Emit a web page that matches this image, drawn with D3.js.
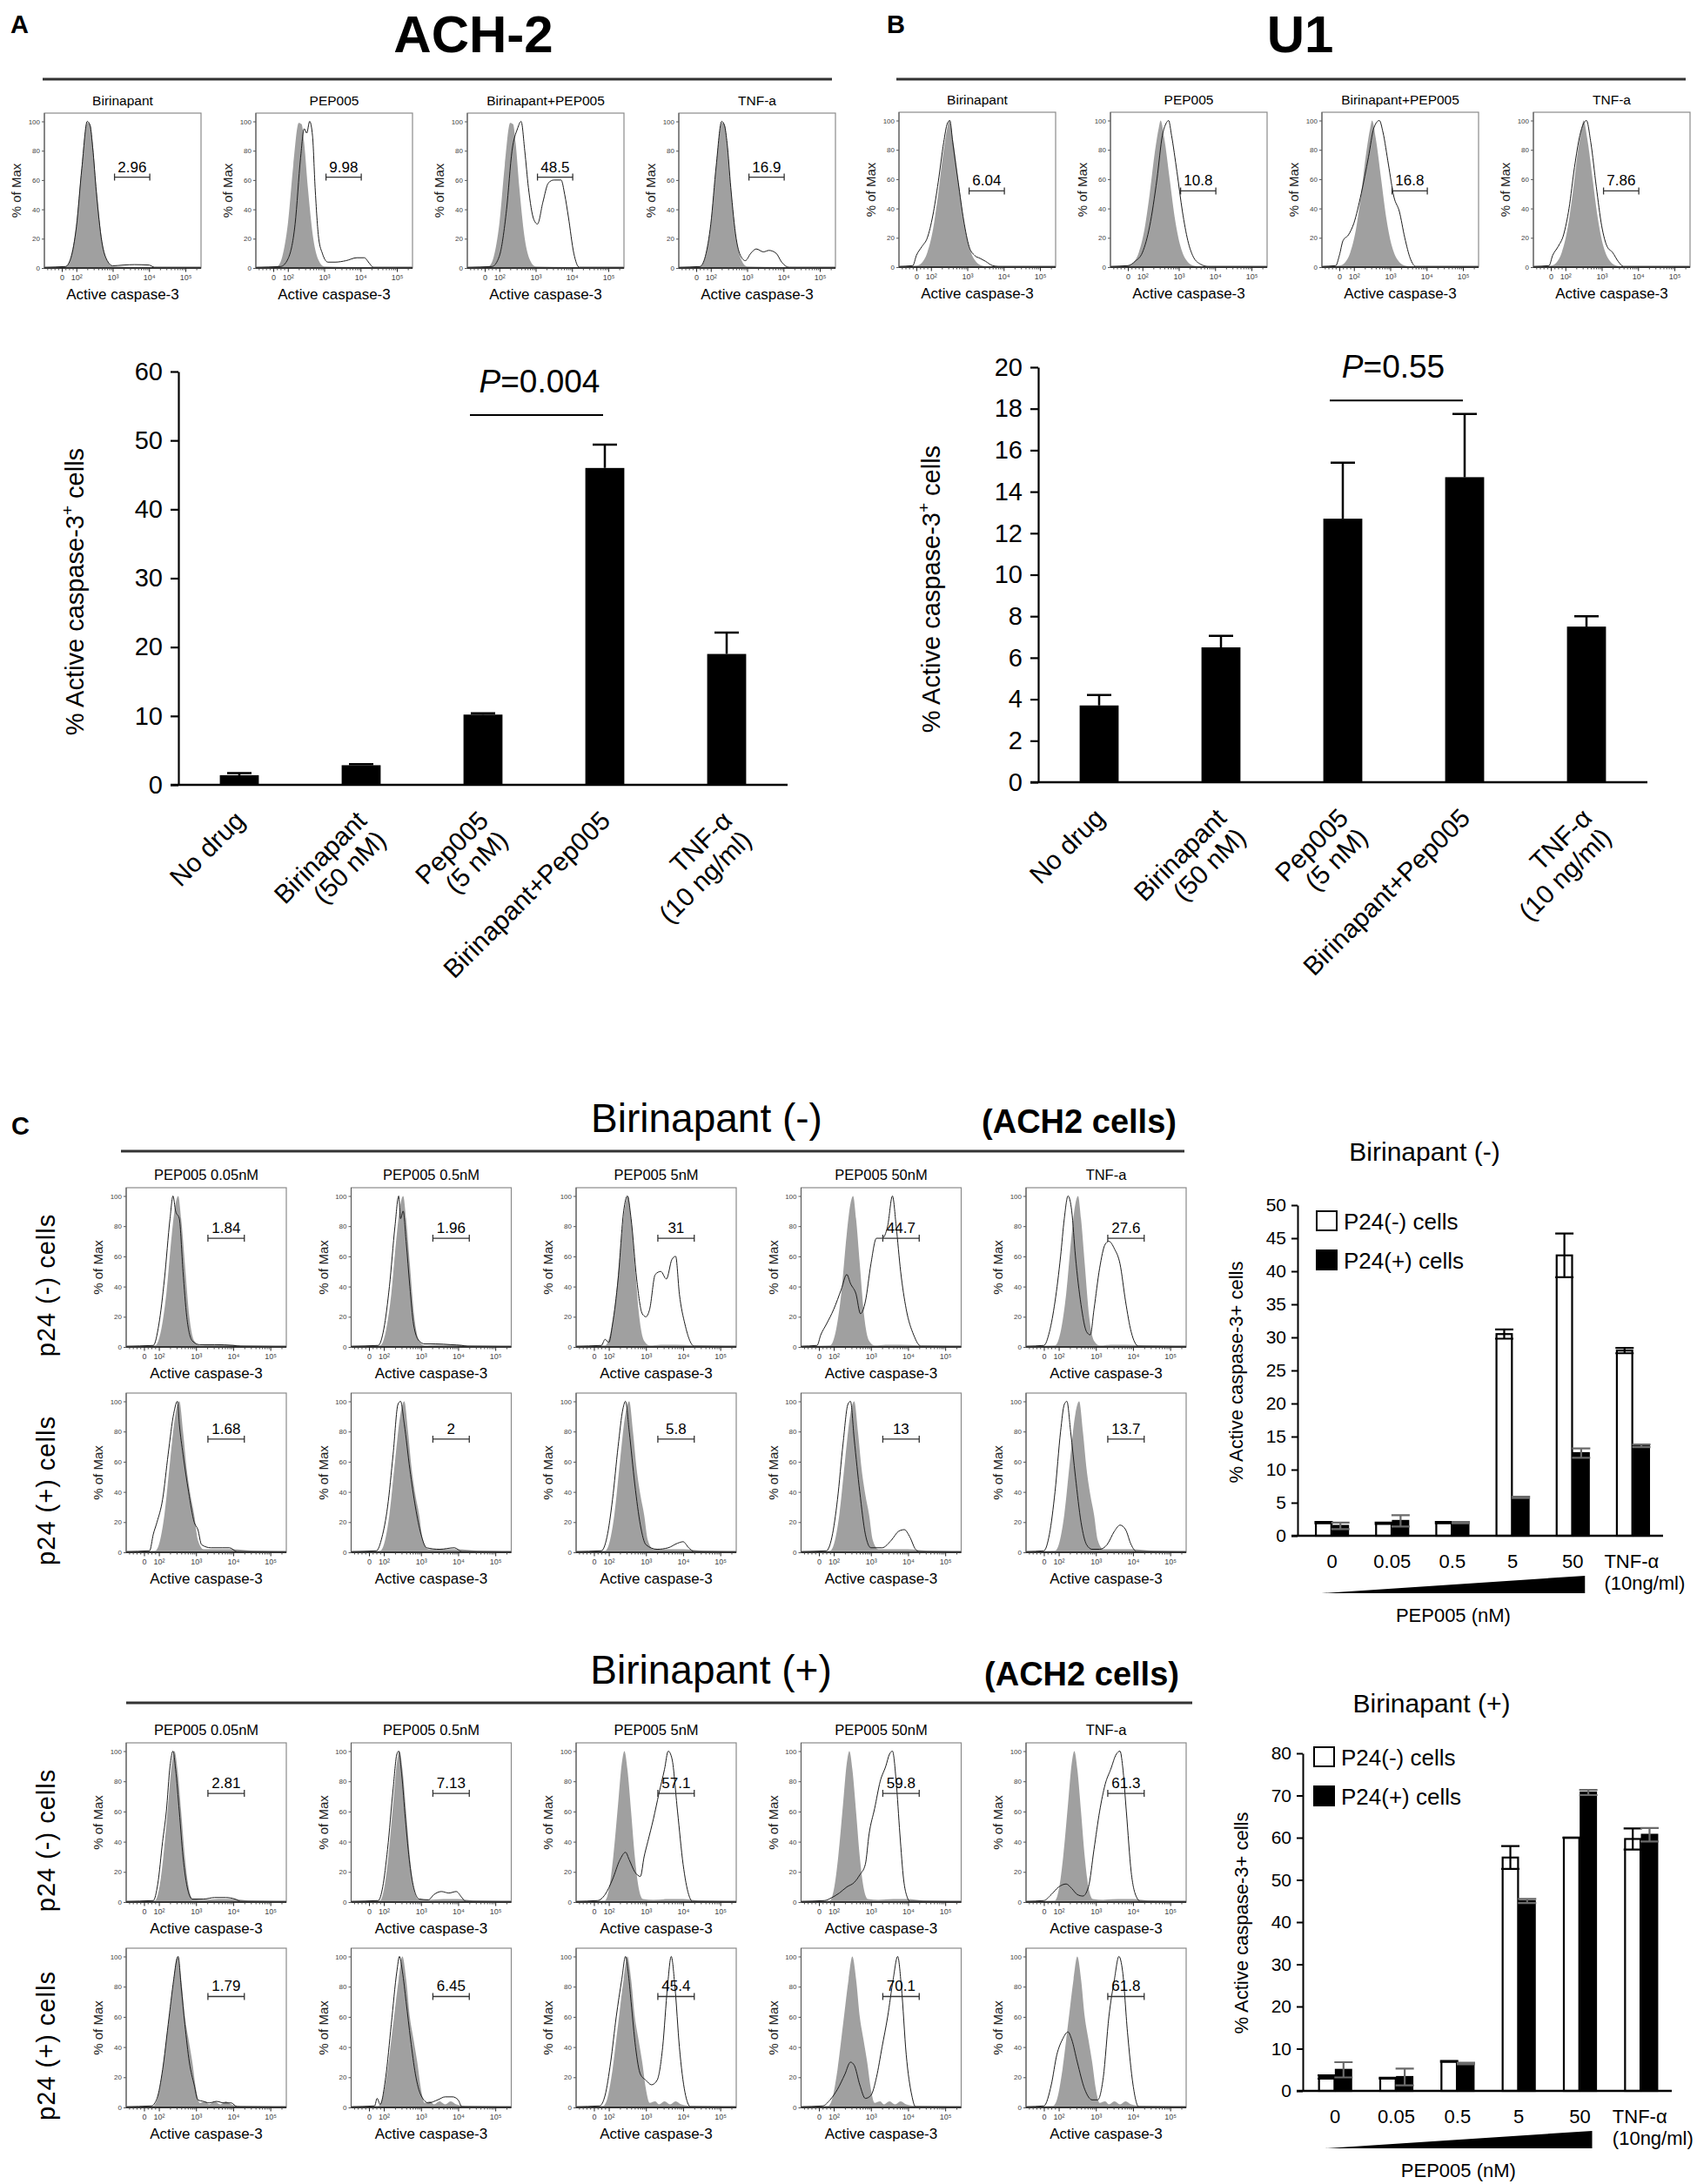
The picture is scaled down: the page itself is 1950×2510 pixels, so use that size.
<!DOCTYPE html>
<html>
<head>
<meta charset="utf-8">
<script src="https://cdn.jsdelivr.net/npm/d3@7"></script>
<style>
  body { margin: 0; background: #fff; }
  text { font-family: "Liberation Sans", Arial, Helvetica, sans-serif; }
</style>
</head>
<body>
<svg id="fig" width="1950" height="2510"></svg>
<script>
const font = '"Liberation Sans", Arial, Helvetica, sans-serif';

// ---------- bar chart data (panels A and B) ----------
const drugLabels = [["No drug"], ["Birinapant", "(50 nM)"], ["Pep005", "(5 nM)"], ["Birinapant+Pep005"], ["TNF-α", "(10 ng/ml)"]];
const achMeans = [1.4, 2.85, 10.2, 46.0, 19.0];
const achErrs = [0.3, 0.15, 0.2, 3.4, 3.1];
const u1Means = [3.7, 6.5, 12.7, 14.7, 7.5];
const u1Errs = [0.5, 0.55, 2.7, 3.05, 0.5];

// ---------- grouped bar data (panel C, right) ----------
const doseLabels = [["0"], ["0.05"], ["0.5"], ["5"], ["50"], ["TNF-α", "(10ng/ml)"]];
const birMinusP24Neg = [2.0, 1.9, 2.0, 30.5, 42.4, 28.0];
const birMinusP24NegErr = [0.1, 0.1, 0.1, 0.7, 3.3, 0.4];
const birMinusP24Pos = [1.5, 2.25, 2.0, 5.8, 12.5, 13.6];
const birMinusP24PosErr = [0.5, 0.85, 0.1, 0.1, 0.7, 0.2];
const birPlusP24Neg = [3.3, 3.0, 7.0, 55.3, 60.0, 59.7];
const birPlusP24NegErr = [0.4, 0.1, 0.1, 2.7, 0.05, 2.5];
const birPlusP24Pos = [5.0, 3.3, 6.5, 45.0, 70.7, 60.7];
const birPlusP24PosErr = [1.8, 2.0, 0.2, 0.5, 0.6, 1.6];

// ---------- histogram data: [decade position, % of max] ----------
const abTitles = ["Birinapant", "PEP005", "Birinapant+PEP005", "TNF-a"];
const cTitles = ["PEP005 0.05nM", "PEP005 0.5nM", "PEP005 5nM", "PEP005 50nM", "TNF-a"];

const achGates = ["2.96", "9.98", "48.5", "16.9"];
const achGray = [[1.12,0.5],[1.7,1],[1.85,8],[2.0,30],[2.15,70],[2.3,99],[2.38,98],[2.45,85],[2.55,55],[2.7,20],[2.85,5],[3.0,1],[3.5,0.8],[5.43,0.5]];
const achLines = [
  [[1.12,0.5],[1.7,1],[1.85,7],[2.0,28],[2.15,68],[2.3,100],[2.38,97],[2.45,82],[2.55,52],[2.7,18],[2.85,5],[3.0,1.5],[3.3,2],[3.6,2.3],[4.0,2],[4.15,0.5],[5.43,0.5]],
  [[1.12,0.5],[1.8,1],[2.0,6],[2.2,30],[2.35,75],[2.45,95],[2.52,92],[2.6,100],[2.68,90],[2.75,55],[2.85,20],[2.95,10],[3.1,4],[3.3,4],[3.6,5],[3.9,7],[4.1,7],[4.25,3],[4.35,0.5],[5.43,0.5]],
  [[1.12,0.5],[1.8,1],[2.0,8],[2.2,40],[2.35,80],[2.5,95],[2.6,100],[2.7,80],[2.8,55],[2.95,33],[3.05,30],[3.2,45],[3.35,58],[3.5,60],[3.7,60],[3.8,50],[3.9,35],[4.05,10],[4.2,0.5],[5.43,0.5]],
  [[1.12,0.5],[1.7,1],[1.85,8],[2.0,30],[2.15,70],[2.3,100],[2.38,97],[2.45,85],[2.55,55],[2.7,20],[2.85,7],[2.95,5],[3.1,10],[3.25,13],[3.45,11],[3.6,12],[3.8,10],[3.95,4],[4.15,0.5],[5.43,0.5]]
];

const u1Gates = ["6.04", "10.8", "16.8", "7.86"];
const u1Gray = [[1.12,0.5],[1.6,1],[1.75,3],[1.9,10],[2.05,25],[2.2,50],[2.35,80],[2.45,95],[2.5,100],[2.6,88],[2.75,60],[2.9,32],[3.05,14],[3.2,5],[3.4,1],[3.6,0.5],[5.43,0.5]];
const u1Lines = [
  [[1.12,0.5],[1.5,1],[1.6,8],[1.75,14],[1.9,20],[2.05,35],[2.2,58],[2.35,85],[2.45,98],[2.52,100],[2.6,85],[2.75,58],[2.9,32],[3.05,14],[3.2,8],[3.35,6],[3.5,4],[3.7,1],[3.85,0.5],[5.43,0.5]],
  [[1.12,0.5],[1.6,1],[1.8,4],[2.0,10],[2.2,28],[2.4,60],[2.55,90],[2.65,98],[2.72,100],[2.8,90],[2.95,65],[3.1,38],[3.25,18],[3.4,7],[3.6,2],[3.8,0.5],[5.43,0.5]],
  [[1.12,0.5],[1.5,1],[1.6,8],[1.7,18],[1.85,22],[2.0,30],[2.2,50],[2.4,75],[2.55,95],[2.7,100],[2.8,92],[2.95,70],[3.1,48],[3.25,38],[3.4,20],[3.55,6],[3.7,0.5],[5.43,0.5]],
  [[1.12,0.5],[1.55,1],[1.65,8],[1.8,14],[1.95,22],[2.1,40],[2.25,68],[2.4,90],[2.5,98],[2.58,100],[2.7,85],[2.85,55],[3.0,28],[3.15,14],[3.3,10],[3.45,4],[3.6,0.5],[5.43,0.5]]
];

// Birinapant (-), p24(-) row
const birMinusNegGates = ["1.84", "1.96", "31", "44.7", "27.6"];
const birMinusNegGray = [[1.12,0.5],[1.9,1],[2.05,10],[2.2,35],[2.35,75],[2.45,95],[2.52,100],[2.6,85],[2.7,55],[2.82,20],[2.95,4],[3.1,1],[3.4,1.5],[3.8,1.5],[4.3,1],[5.43,0.5]];
const birMinusNegLines = [
  [[1.12,0.5],[1.85,1],[2.0,15],[2.15,45],[2.3,85],[2.38,100],[2.45,90],[2.55,85],[2.65,50],[2.75,20],[2.9,4],[3.1,1.5],[3.5,1.5],[4.0,1],[4.2,0.5],[5.43,0.5]],
  [[1.12,0.5],[1.85,1],[2.0,12],[2.15,40],[2.3,80],[2.4,100],[2.45,85],[2.52,90],[2.6,70],[2.7,40],[2.8,15],[2.95,4],[3.1,2],[3.4,2],[3.8,1.5],[4.1,1],[4.25,0.5],[5.43,0.5]],
  [[1.12,0.5],[1.8,1],[1.9,5],[2.0,3],[2.1,15],[2.25,45],[2.4,90],[2.5,100],[2.6,85],[2.75,45],[2.9,22],[3.0,20],[3.1,25],[3.25,48],[3.4,50],[3.55,45],[3.7,58],[3.8,60],[3.9,35],[4.05,15],[4.3,0.5],[5.43,0.5]],
  [[1.12,0.5],[1.55,1],[1.65,8],[1.8,15],[2.0,25],[2.2,38],[2.35,48],[2.45,42],[2.6,35],[2.72,22],[2.85,30],[3.0,55],[3.15,72],[3.3,72],[3.45,80],[3.58,100],[3.68,80],[3.8,50],[3.95,25],[4.15,8],[4.35,0.5],[5.43,0.5]],
  [[1.12,0.5],[1.6,1],[1.75,10],[1.9,30],[2.05,60],[2.15,85],[2.25,100],[2.35,90],[2.45,60],[2.6,28],[2.75,10],[2.85,8],[2.95,25],[3.1,52],[3.25,68],[3.35,70],[3.5,65],[3.65,55],[3.8,30],[3.95,10],[4.15,0.5],[5.43,0.5]]
];

// Birinapant (-), p24(+) row
const birMinusPosGates = ["1.68", "2", "5.8", "13", "13.7"];
const birMinusPosGray = [[1.12,0.5],[1.9,1],[2.0,5],[2.15,25],[2.3,60],[2.45,92],[2.55,100],[2.65,80],[2.75,55],[2.85,38],[2.95,25],[3.05,8],[3.2,2],[3.5,2],[4.0,2],[4.5,1],[5.43,0.5]];
const birMinusPosLines = [
  [[1.12,0.5],[1.75,1],[1.85,12],[1.95,20],[2.1,35],[2.25,65],[2.4,92],[2.5,100],[2.55,85],[2.65,65],[2.8,40],[2.95,20],[3.05,15],[3.15,5],[3.4,3],[3.7,3],[3.9,3],[4.1,0.5],[5.43,0.5]],
  [[1.12,0.5],[1.8,1],[1.95,10],[2.1,30],[2.25,65],[2.38,98],[2.45,100],[2.55,85],[2.7,55],[2.85,30],[3.0,12],[3.15,3],[3.5,2],[3.9,3],[4.1,0.5],[5.43,0.5]],
  [[1.12,0.5],[1.8,1],[1.95,10],[2.1,35],[2.25,70],[2.38,95],[2.45,100],[2.55,80],[2.7,45],[2.85,18],[3.0,5],[3.3,2],[3.6,3],[3.85,6],[4.0,7],[4.15,3],[4.3,0.5],[5.43,0.5]],
  [[1.12,0.5],[1.8,1],[1.95,10],[2.1,35],[2.25,72],[2.38,98],[2.45,100],[2.55,75],[2.7,40],[2.85,12],[3.0,3],[3.3,3],[3.55,8],[3.75,14],[3.9,15],[4.05,10],[4.2,2],[4.3,0.5],[5.43,0.5]],
  [[1.12,0.5],[1.6,1],[1.75,12],[1.9,40],[2.05,80],[2.15,98],[2.22,100],[2.32,80],[2.45,50],[2.6,20],[2.75,5],[2.9,2],[3.1,2],[3.3,5],[3.5,14],[3.65,18],[3.8,15],[3.95,5],[4.1,0.5],[5.43,0.5]]
];

// Birinapant (+), p24(-) row
const birPlusNegGates = ["2.81", "7.13", "57.1", "59.8", "61.3"];
const birPlusNegGray = [[1.12,0.5],[1.9,1],[2.0,8],[2.12,30],[2.25,65],[2.35,92],[2.42,100],[2.5,88],[2.6,60],[2.7,30],[2.8,10],[2.92,2],[3.2,1.5],[3.6,2],[4.0,2],[4.4,1],[5.43,0.5]];
const birPlusNegLines = [
  [[1.12,0.5],[1.85,1],[1.97,12],[2.1,40],[2.2,60],[2.3,90],[2.38,100],[2.45,88],[2.55,60],[2.65,30],[2.78,8],[2.9,2],[3.2,2],[3.5,3],[3.8,3],[4.05,2],[4.2,0.5],[5.43,0.5]],
  [[1.12,0.5],[1.85,1],[1.97,10],[2.1,35],[2.25,75],[2.35,98],[2.4,100],[2.48,85],[2.58,55],[2.7,25],[2.82,8],[2.95,2],[3.2,1.5],[3.35,5],[3.55,7],[3.75,6],[3.95,7],[4.1,3],[4.2,0.5],[5.43,0.5]],
  [[1.12,0.5],[1.7,1],[1.9,5],[2.1,15],[2.3,28],[2.45,33],[2.55,28],[2.7,20],[2.85,17],[2.95,30],[3.05,40],[3.2,55],[3.35,72],[3.5,88],[3.6,100],[3.7,95],[3.85,60],[4.0,25],[4.15,5],[4.25,0.5],[5.43,0.5]],
  [[1.12,0.5],[1.75,1],[1.95,3],[2.15,6],[2.35,10],[2.55,13],[2.7,18],[2.85,25],[2.95,45],[3.1,62],[3.25,80],[3.4,90],[3.5,98],[3.58,100],[3.68,80],[3.78,45],[3.88,15],[3.98,3],[4.05,0.5],[5.43,0.5]],
  [[1.12,0.5],[1.6,1],[1.8,5],[2.0,10],[2.2,12],[2.35,9],[2.5,5],[2.65,4],[2.8,10],[2.95,35],[3.1,60],[3.25,78],[3.4,88],[3.55,98],[3.65,100],[3.72,90],[3.82,60],[3.95,20],[4.1,3],[4.2,0.5],[5.43,0.5]]
];

// Birinapant (+), p24(+) row
const birPlusPosGates = ["1.79", "6.45", "45.4", "70.1", "61.8"];
const birPlusPosGray = [[1.12,0.5],[1.85,1],[1.95,5],[2.1,25],[2.25,55],[2.4,85],[2.5,100],[2.6,85],[2.7,60],[2.8,45],[2.9,30],[3.0,12],[3.1,3],[3.25,4],[3.35,2],[3.5,4],[3.65,2],[3.8,4],[3.95,2],[4.2,1],[5.43,0.5]];
const birPlusPosLines = [
  [[1.12,0.5],[1.8,1],[1.95,6],[2.1,25],[2.25,55],[2.4,85],[2.48,98],[2.52,100],[2.6,80],[2.7,55],[2.82,30],[2.95,15],[3.05,5],[3.2,4],[3.35,3],[3.55,4],[3.75,3],[3.95,3],[4.1,0.5],[5.43,0.5]],
  [[1.12,0.5],[1.75,1],[1.82,6],[1.9,2],[2.05,20],[2.2,55],[2.35,90],[2.42,100],[2.5,90],[2.6,70],[2.72,45],[2.85,22],[3.0,8],[3.2,3],[3.45,5],[3.65,7],[3.85,7],[4.0,5],[4.1,0.5],[5.43,0.5]],
  [[1.12,0.5],[1.75,1],[1.9,8],[2.05,30],[2.2,60],[2.35,85],[2.45,100],[2.52,90],[2.6,70],[2.72,40],[2.85,22],[3.0,18],[3.15,15],[3.3,18],[3.45,40],[3.58,80],[3.68,100],[3.78,80],[3.9,40],[4.05,10],[4.2,0.5],[5.43,0.5]],
  [[1.12,0.5],[1.7,1],[1.9,5],[2.1,12],[2.3,22],[2.45,30],[2.55,28],[2.7,15],[2.85,6],[3.0,8],[3.15,20],[3.3,40],[3.45,60],[3.6,85],[3.72,100],[3.82,80],[3.95,35],[4.1,8],[4.2,0.5],[5.43,0.5]],
  [[1.12,0.5],[1.6,1],[1.8,15],[1.95,35],[2.1,45],[2.25,50],[2.35,45],[2.5,30],[2.7,12],[2.9,5],[3.05,5],[3.2,20],[3.35,60],[3.5,85],[3.62,100],[3.72,90],[3.85,50],[4.0,15],[4.15,0.5],[5.43,0.5]]
];

// axis ticks of the biexponential display
const histDomain = [1.12, 5.43];
const histTicks = [1.6, 2, 3, 4, 5];
const histTickLabels = ["0", "10²", "10³", "10⁴", "10⁵"];
const histMinor = [1.2, 1.3, 1.4, 1.5, 1.7, 1.8, 1.9]
  .concat(d3.range(2, 5).flatMap(dec => d3.range(2, 10).map(k => dec + Math.log10(k))))
  .concat([5 + Math.log10(2)]);

const svg = d3.select("#fig");
let clipCount = 0;

function drawHisto(x0, y0, w, h, o) {
  const g = svg.append("g").attr("transform", `translate(${x0},${y0})`);
  const x = d3.scaleLinear().domain(histDomain).range([0, w]);
  const y = d3.scaleLinear().domain([0, 100]).range([h, 9.5]);

  const clipId = "hclip" + (clipCount++);
  g.append("clipPath").attr("id", clipId).append("rect").attr("width", w).attr("height", h);

  const area = d3.area().x(d => x(d[0])).y0(h).y1(d => y(d[1])).curve(d3.curveMonotoneX);
  const line = d3.line().x(d => x(d[0])).y(d => y(d[1])).curve(d3.curveMonotoneX);

  g.append("path").attr("d", area(o.gray)).attr("fill", "#a0a0a0")
    .attr("clip-path", `url(#${clipId})`);
  g.append("path").attr("d", line(o.line)).attr("fill", "none")
    .attr("stroke", "#1c1c1c").attr("stroke-width", 1)
    .attr("clip-path", `url(#${clipId})`);

  // frame
  g.append("rect").attr("width", w).attr("height", h)
    .attr("fill", "none").attr("stroke", "#8a8a8a").attr("stroke-width", 1.2);
  g.append("line").attr("x1", 0).attr("x2", 0).attr("y1", 0).attr("y2", h)
    .attr("stroke", "#555").attr("stroke-width", 1);
  g.append("line").attr("x1", 0).attr("x2", w).attr("y1", h).attr("y2", h)
    .attr("stroke", "#333").attr("stroke-width", 1.8);

  // left axis
  const ya = g.append("g").call(d3.axisLeft(y).tickValues([0, 20, 40, 60, 80, 100]).tickSize(3).tickPadding(2));
  ya.select(".domain").remove();
  ya.attr("font-size", 8).attr("font-family", font);
  ya.selectAll("line").attr("stroke", "#555");
  ya.selectAll("text").attr("fill", "#444");

  // bottom axis, minor then major ticks
  const xm = g.append("g").attr("transform", `translate(0,${h})`)
    .call(d3.axisBottom(x).tickValues(histMinor).tickSize(2.5).tickFormat(""));
  xm.select(".domain").remove();
  xm.selectAll("line").attr("stroke", "#444");
  const xa = g.append("g").attr("transform", `translate(0,${h})`)
    .call(d3.axisBottom(x).tickValues(histTicks).tickSize(4.5).tickPadding(3)
      .tickFormat((d, i) => histTickLabels[i]));
  xa.select(".domain").remove();
  xa.attr("font-size", 9).attr("font-family", font);
  xa.selectAll("line").attr("stroke", "#222");
  xa.selectAll("text").attr("fill", "#444");

  // labels (title only on the first row of a block)
  if (o.title) {
    g.append("text").attr("x", w / 2).attr("y", -9).attr("text-anchor", "middle")
      .attr("font-size", o.titleSize).text(o.title);
  }
  g.append("text").attr("transform", `translate(-27,${h / 2}) rotate(-90)`)
    .attr("text-anchor", "middle").attr("font-size", 15).attr("fill", "#222").text("% of Max");
  g.append("text").attr("x", w / 2).attr("y", h + 36).attr("text-anchor", "middle")
    .attr("font-size", 17).text("Active caspase-3");

  // gate bracket
  const gy = y(o.gateY), ga = x(o.gateX[0]), gb = x(o.gateX[1]);
  g.append("path").attr("d", `M${ga},${gy - 4}V${gy + 4}M${ga},${gy}H${gb}M${gb},${gy - 4}V${gy + 4}`)
    .attr("stroke", "#333").attr("stroke-width", 1.3).attr("fill", "none");
  g.append("text").attr("x", (ga + gb) / 2).attr("y", gy - 6).attr("text-anchor", "middle")
    .attr("font-size", 17).text(o.gate);
}

function drawBarChart(o) {
  const g = svg.append("g");
  const keys = drugLabels.map(l => l.join(" "));
  const x = d3.scaleBand().domain(keys).range([o.x0, o.x1]).paddingInner(0.68).paddingOuter(0.34);
  const y = d3.scaleLinear().domain([0, o.max]).range([o.yBase, o.yTop]);
  const cx = i => x(keys[i]) + x.bandwidth() / 2;

  g.selectAll("rect.bar").data(o.means).join("rect").attr("class", "bar")
    .attr("x", (d, i) => x(keys[i])).attr("width", x.bandwidth())
    .attr("y", d => y(d)).attr("height", d => o.yBase - y(d)).attr("fill", "#000");

  // error bars (upper only)
  g.selectAll("path.err").data(o.means).join("path").attr("class", "err")
    .attr("d", (d, i) => `M${cx(i)},${y(d)}V${y(d + o.errs[i])}M${cx(i) - 14},${y(d + o.errs[i])}H${cx(i) + 14}`)
    .attr("stroke", "#000").attr("stroke-width", 2.5).attr("fill", "none");

  const ya = g.append("g").attr("transform", `translate(${o.x0},0)`)
    .call(d3.axisLeft(y).tickValues(d3.range(0, o.max + 0.001, o.step)).tickSize(9).tickSizeOuter(0).tickPadding(9));
  ya.attr("font-size", 29).attr("font-family", font);
  ya.selectAll("path,line").attr("stroke", "#000").attr("stroke-width", 2.2);
  ya.selectAll("text").attr("fill", "#000");

  g.append("line").attr("x1", o.x0 - 9).attr("x2", o.x1).attr("y1", o.yBase).attr("y2", o.yBase)
    .attr("stroke", "#000").attr("stroke-width", 2.5);

  // rotated category labels
  drugLabels.forEach((lines, i) => {
    const t = g.append("text").attr("transform", `translate(${cx(i) + 8},${o.yBase + 43}) rotate(-45)`)
      .attr("text-anchor", "end").attr("font-size", 30);
    lines.forEach((s, j) => t.append("tspan").attr("x", 0).attr("dy", j === 0 ? 0 : "1.05em").text(s));
  });

  // y label
  const yl = g.append("text").attr("transform", `translate(${o.labelX},${o.labelY}) rotate(-90)`)
    .attr("text-anchor", "middle").attr("font-size", 29);
  yl.append("tspan").text("% Active caspase-3");
  yl.append("tspan").attr("font-size", 19).attr("dy", -12).text("+");
  yl.append("tspan").attr("dy", 12).text(" cells");

  // significance bar
  const ly = y(o.pLine);
  g.append("line").attr("x1", cx(2) - 15).attr("x2", cx(3) - 2).attr("y1", ly).attr("y2", ly)
    .attr("stroke", "#000").attr("stroke-width", 2);
  const pt = g.append("text").attr("x", o.pX).attr("y", ly - 26).attr("text-anchor", "middle").attr("font-size", 37);
  pt.append("tspan").attr("font-style", "italic").text("P");
  pt.append("tspan").text("=" + o.pText);
}

function drawGroupChart(o) {
  const g = svg.append("g");
  const keys = doseLabels.map(l => l.join(" "));
  const x = d3.scaleBand().domain(keys).range([o.bandStart, o.xEnd]);
  const xs = d3.scaleBand().domain(["neg", "pos"]).range([-18.5, 18.5]).paddingInner(0.08);
  const y = d3.scaleLinear().domain([0, o.max]).range([o.yBase, o.yTop]);
  const cx = i => x(keys[i]) + x.bandwidth() / 2;

  const series = [
    { key: "neg", vals: o.neg, errs: o.negErr, fill: "#fff", err: "#000" },
    { key: "pos", vals: o.pos, errs: o.posErr, fill: "#000", err: "#6a6a6a" }
  ];
  series.forEach(s => {
    g.selectAll(null).data(s.vals).join("rect")
      .attr("x", (d, i) => cx(i) + xs(s.key)).attr("width", xs.bandwidth())
      .attr("y", d => y(d)).attr("height", d => o.yBase - y(d))
      .attr("fill", s.fill).attr("stroke", "#000").attr("stroke-width", 2.2);
    g.selectAll(null).data(s.vals).join("path")
      .attr("d", (d, i) => {
        const bx = cx(i) + xs(s.key) + xs.bandwidth() / 2, hw = 10.5;
        const hi = y(d + s.errs[i]), lo = y(d - s.errs[i]);
        return `M${bx},${lo}V${hi}M${bx - hw},${hi}H${bx + hw}M${bx - hw},${lo}H${bx + hw}`;
      })
      .attr("stroke", s.err).attr("stroke-width", 2.2).attr("fill", "none");
  });

  const ya = g.append("g").attr("transform", `translate(${o.x0},0)`)
    .call(d3.axisLeft(y).tickValues(d3.range(0, o.max + 0.001, o.step)).tickSize(7).tickSizeOuter(0).tickPadding(6));
  ya.attr("font-size", 21).attr("font-family", font);
  ya.selectAll("path,line").attr("stroke", "#000").attr("stroke-width", 2);
  ya.selectAll("text").attr("fill", "#000");

  g.append("line").attr("x1", o.x0 - 7).attr("x2", o.xEnd).attr("y1", o.yBase).attr("y2", o.yBase)
    .attr("stroke", "#000").attr("stroke-width", 2.5);

  // dose labels
  doseLabels.forEach((lines, i) => {
    const multi = lines.length > 1;
    const t = g.append("text").attr("font-size", 22)
      .attr("text-anchor", multi ? "start" : "middle");
    lines.forEach((s, j) => t.append("tspan").attr("x", multi ? cx(i) - 33 : cx(i))
      .attr("y", o.yBase + 37 + j * 25).text(s));
  });

  // concentration wedge
  const tx0 = cx(0) - 12, tx1 = cx(4) + 14, tyb = o.yBase + 66;
  g.append("path").attr("d", `M${tx0},${tyb}L${tx1},${tyb - 20}V${tyb}Z`).attr("fill", "#000");
  g.append("text").attr("x", (tx0 + tx1) / 2).attr("y", tyb + 33).attr("text-anchor", "middle")
    .attr("font-size", 22).text("PEP005 (nM)");

  // legend
  ["P24(-) cells", "P24(+) cells"].forEach((s, j) => {
    const ly = o.legendY + j * 45;
    g.append("rect").attr("x", o.legendX).attr("y", ly).attr("width", 23).attr("height", 22)
      .attr("fill", j ? "#000" : "#fff").attr("stroke", "#000").attr("stroke-width", 2);
    g.append("text").attr("x", o.legendX + 31).attr("y", ly + 21).attr("font-size", 26).text(s);
  });

  g.append("text").attr("x", o.titleX).attr("y", o.titleY).attr("text-anchor", "middle")
    .attr("font-size", 30).text(o.title);
  g.append("text").attr("transform", `translate(${o.labelX},${o.labelY}) rotate(-90)`)
    .attr("text-anchor", "middle").attr("font-size", 22).text("% Active caspase-3+ cells");
}

function header(x, y, s, size, weight, anchor) {
  svg.append("text").attr("x", x).attr("y", y).attr("font-size", size)
    .attr("font-weight", weight).attr("text-anchor", anchor || "start").text(s);
}
function rule(x1, x2, y) {
  svg.append("line").attr("x1", x1).attr("x2", x2).attr("y1", y).attr("y2", y)
    .attr("stroke", "#333").attr("stroke-width", 3.2);
}

// ---------- panel A / B ----------
header(12, 38, "A", 29, "bold");
header(544, 60, "ACH-2", 60, "bold", "middle");
rule(49, 956, 91);
header(1019, 38, "B", 29, "bold");
header(1494, 60, "U1", 60, "bold", "middle");
rule(1030, 1937, 91);

abTitles.forEach((t, i) => {
  drawHisto(51 + i * 243, 130, 180, 178, { title: t, titleSize: 15.5, gray: achGray, line: achLines[i],
    gate: achGates[i], gateY: 62, gateX: [3.05, 4.02] });
  drawHisto(1033 + i * 243, 129, 180, 178, { title: t, titleSize: 15.5, gray: u1Gray, line: u1Lines[i],
    gate: u1Gates[i], gateY: 52, gateX: [3.05, 4.02] });
});

drawBarChart({ x0: 205, x1: 905, yBase: 902, yTop: 427, max: 60, step: 10,
  means: achMeans, errs: achErrs, labelX: 96, labelY: 680, pLine: 53.7, pX: 620, pText: "0.004" });
drawBarChart({ x0: 1193, x1: 1893, yBase: 899, yTop: 422, max: 20, step: 2,
  means: u1Means, errs: u1Errs, labelX: 1080, labelY: 677, pLine: 18.4, pX: 1601, pText: "0.55" });

// ---------- panel C ----------
header(13, 1304, "C", 29, "bold");
header(812, 1301, "Birinapant (-)", 46, "normal", "middle");
header(1240, 1302, "(ACH2 cells)", 38, "bold", "middle");
rule(139, 1361, 1323);
header(817, 1935, "Birinapant (+)", 46, "normal", "middle");
header(1243, 1937, "(ACH2 cells)", 38, "bold", "middle");
rule(145, 1370, 1957);

const cRows = [
  { y: 1365, titled: true, gray: birMinusNegGray, lines: birMinusNegLines, gates: birMinusNegGates, gateY: 72, label: "p24 (-) cells" },
  { y: 1601, titled: false, gray: birMinusPosGray, lines: birMinusPosLines, gates: birMinusPosGates, gateY: 75, label: "p24 (+) cells" },
  { y: 2003, titled: true, gray: birPlusNegGray, lines: birPlusNegLines, gates: birPlusNegGates, gateY: 72, label: "p24 (-) cells" },
  { y: 2239, titled: false, gray: birPlusPosGray, lines: birPlusPosLines, gates: birPlusPosGates, gateY: 73.5, label: "p24 (+) cells" }
];
cRows.forEach(r => {
  cTitles.forEach((t, i) => {
    drawHisto(145 + i * 258.5, r.y, 184, 183, { title: r.titled ? t : null, titleSize: 16.5, gray: r.gray,
      line: r.lines[i], gate: r.gates[i], gateY: r.gateY, gateX: [3.32, 4.3] });
  });
  svg.append("text").attr("transform", `translate(63,${r.y + 112}) rotate(-90)`)
    .attr("text-anchor", "middle").attr("font-size", 29).attr("letter-spacing", 1).text(r.label);
});

drawGroupChart({ x0: 1491, bandStart: 1496, xEnd: 1911, yBase: 1765, yTop: 1385, max: 50, step: 5,
  neg: birMinusP24Neg, negErr: birMinusP24NegErr, pos: birMinusP24Pos, posErr: birMinusP24PosErr,
  title: "Birinapant (-)", titleX: 1637, titleY: 1334, labelX: 1428, labelY: 1577,
  legendX: 1513, legendY: 1392 });
drawGroupChart({ x0: 1497, bandStart: 1499, xEnd: 1921, yBase: 2403, yTop: 2015, max: 80, step: 10,
  neg: birPlusP24Neg, negErr: birPlusP24NegErr, pos: birPlusP24Pos, posErr: birPlusP24PosErr,
  title: "Birinapant (+)", titleX: 1645, titleY: 1968, labelX: 1434, labelY: 2210,
  legendX: 1510, legendY: 2008 });
</script>
</body>
</html>
